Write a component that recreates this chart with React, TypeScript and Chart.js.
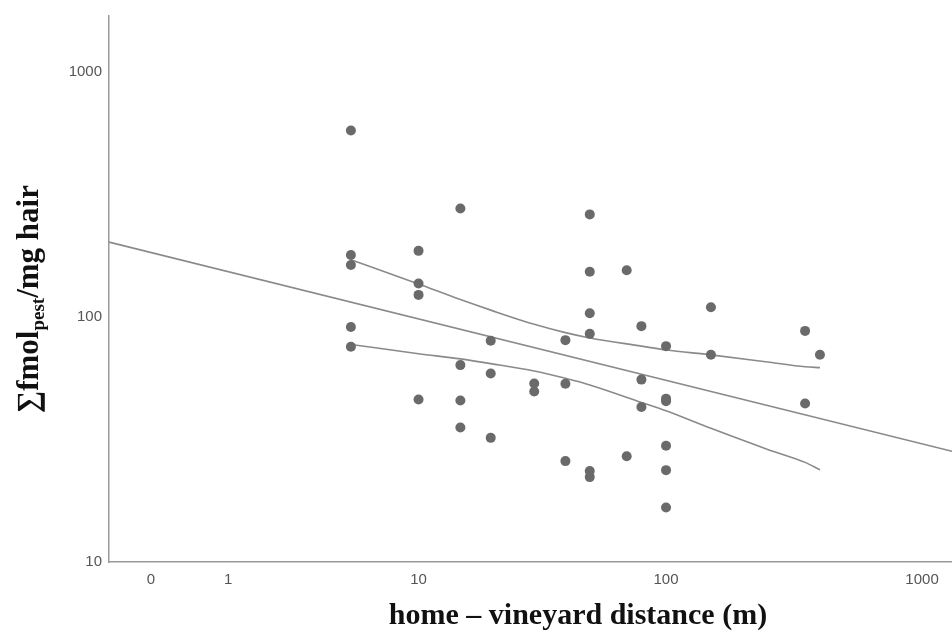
import React, { useEffect, useRef } from "react";
import { Chart, registerables } from "chart.js";

Chart.register(...registerables);

// Observed samples: home–vineyard distance (m) and ∑fmol_pest / mg hair
const distances = [
  5, 5, 5, 5, 5,
  10, 10, 10, 10,
  15, 15, 15, 15,
  20, 20, 20,
  30, 30,
  40, 40, 40,
  50, 50, 50, 50, 50, 50,
  70, 70,
  80, 80, 80,
  100, 100, 100, 100, 100, 100,
  150, 150,
  350, 350,
  400,
];
const concentrations = [
  576, 179, 163, 91, 75.5,
  186, 137, 123, 46,
  277, 63.6, 45.6, 35.4,
  80, 58.8, 32.1,
  53.5, 49.6,
  80.4, 53.4, 25.8,
  262, 153, 103.5, 85.3, 23.5, 22.2,
  155, 27,
  91.7, 55.5, 42.9,
  76, 46.4, 45.3, 29.8, 23.7, 16.7,
  109.5, 70.1,
  87.7, 44.3,
  70.1,
];

// Fitted regression line (read at the axis ends)
const fitDistances = [-0.313, 1308];
const fitValues = [202, 28.3];

// Confidence band of the fit
const bandDistances = [5, 10, 15, 20, 30, 40, 50, 80, 100, 150, 250, 350, 400];
const bandUpper = [171.3, 136.2, 117.7, 106.6, 93.3, 86.3, 82.1, 76.0, 73.3, 70.0, 65.5, 62.6, 62.1];
const bandLower = [77.2, 70.8, 67.4, 64.5, 60.2, 56.2, 52.8, 44.8, 41.4, 35.1, 28.8, 25.5, 23.8];

// Axis ticks
const xTickValues = [0, 1, 10, 100, 1000];
const xTickLabels = ["0", "1", "10", "100", "1000"];
const yTickValues = [10, 100, 1000];
const yTickLabels = ["10", "100", "1000"];

const xMinDistance = -0.313;
const xMaxDistance = 1308;
const yMin = 10;
const yMax = 1690;

const toX = (d: number) => Math.log10(d + 1);

const titlesPlugin = {
  id: "customTitles",
  afterDraw(chart: any) {
    const ctx = chart.ctx;
    ctx.save();
    ctx.fillStyle = "#111";
    // x title
    ctx.font = "bold 30px 'Liberation Serif', 'Times New Roman', serif";
    ctx.textAlign = "center";
    ctx.textBaseline = "alphabetic";
    ctx.fillText("home – vineyard distance (m)", 578, 624);

    // y title with subscript
    const big = "bold 31px 'Liberation Serif', 'Times New Roman', serif";
    const small = "bold 19px 'Liberation Serif', 'Times New Roman', serif";
    const p1 = "∑fmol";
    const p2 = "pest";
    const p3 = "/mg hair";
    ctx.font = big;
    const w1 = ctx.measureText(p1).width;
    const w3 = ctx.measureText(p3).width;
    ctx.font = small;
    const w2 = ctx.measureText(p2).width;
    const total = w1 + w2 + w3;
    ctx.translate(38, 299);
    ctx.rotate(-Math.PI / 2);
    ctx.textAlign = "left";
    let x = -total / 2;
    ctx.font = big;
    ctx.fillText(p1, x, 0);
    x += w1;
    ctx.font = small;
    ctx.fillText(p2, x, 6);
    x += w2;
    ctx.font = big;
    ctx.fillText(p3, x, 0);
    ctx.restore();
  },
};

export default function App() {
  const ref = useRef<HTMLCanvasElement | null>(null);

  useEffect(() => {
    document.body.style.margin = "0";
    if (!ref.current) return;
    const points = distances.map((d, i) => ({ x: toX(d), y: concentrations[i] }));
    const fit = fitDistances.map((d, i) => ({ x: toX(d), y: fitValues[i] }));
    const upper = bandDistances.map((d, i) => ({ x: toX(d), y: bandUpper[i] }));
    const lower = bandDistances.map((d, i) => ({ x: toX(d), y: bandLower[i] }));
    const lineColor = "#8a8a8a";

    const chart = new Chart(ref.current, {
      type: "scatter",
      data: {
        datasets: [
          {
            data: points,
            pointRadius: 5,
            pointHoverRadius: 5,
            backgroundColor: "#6a6a6a",
            borderWidth: 0,
            showLine: false,
          },
          {
            data: fit,
            showLine: true,
            borderColor: lineColor,
            borderWidth: 1.6,
            pointRadius: 0,
          },
          {
            data: upper,
            showLine: true,
            borderColor: lineColor,
            borderWidth: 1.6,
            pointRadius: 0,
            cubicInterpolationMode: "monotone",
          },
          {
            data: lower,
            showLine: true,
            borderColor: lineColor,
            borderWidth: 1.6,
            pointRadius: 0,
            cubicInterpolationMode: "monotone",
          },
        ] as any,
      },
      options: {
        animation: false,
        responsive: false,
        layout: { autoPadding: false, padding: { top: 14, right: 0, left: 0, bottom: 0 } },
        plugins: {
          legend: { display: false },
          tooltip: { enabled: false },
        },
        scales: {
          x: {
            type: "linear",
            min: toX(xMinDistance),
            max: toX(xMaxDistance),
            grid: { display: false, drawTicks: false },
            border: { display: true, color: "#9a9a9a", width: 1.5 },
            afterBuildTicks: (scale: any) => {
              scale.ticks = xTickValues.map((v) => ({ value: toX(v) }));
            },
            afterFit: (scale: any) => {
              scale.height = 71;
            },
            ticks: {
              autoSkip: false,
              maxRotation: 0,
              padding: 9,
              color: "#555",
              font: { family: "'Liberation Sans', Arial, sans-serif", size: 15 },
              callback: (_v: any, i: number) => xTickLabels[i],
            },
          },
          y: {
            type: "logarithmic",
            min: yMin,
            max: yMax,
            grid: { display: false, drawTicks: false },
            border: { display: true, color: "#9a9a9a", width: 1.5 },
            afterBuildTicks: (scale: any) => {
              scale.ticks = yTickValues.map((v) => ({ value: v }));
            },
            afterFit: (scale: any) => {
              scale.width = 109;
            },
            ticks: {
              autoSkip: false,
              padding: 7,
              color: "#555",
              font: { family: "'Liberation Sans', Arial, sans-serif", size: 15 },
              callback: (_v: any, i: number) => yTickLabels[i],
            },
          },
        },
      } as any,
      plugins: [titlesPlugin],
    });
    return () => chart.destroy();
  }, []);

  return (
    <div style={{ width: 952, height: 633 }}>
      <canvas ref={ref} width={952} height={633} style={{ display: "block" }} />
    </div>
  );
}
